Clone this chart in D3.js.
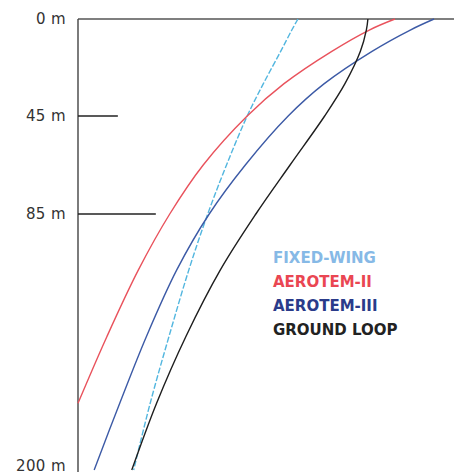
<!DOCTYPE html>
<html>
<head>
<meta charset="utf-8">
<script src="https://cdn.jsdelivr.net/npm/d3@7"></script>
<style>
  html, body { margin: 0; padding: 0; background: #fff; }
  svg { display: block; }
</style>
</head>
<body>
<div id="chart"></div>
<script>
// depth (m) down the borehole, and relative response of each system (% of full width)
const depths = [0, 5, 15, 30, 45, 65, 85, 110, 140, 170, 200];
const fixedWing = [58.5, 56.9, 53.9, 49.3, 45.0, 39.5, 34.5, 29.5, 24.2, 19.2, 14.8];
const aerotem2 = [84.3, 77.6, 67.5, 54.8, 45.0, 33.3, 24.4, 16.1, 7.7, 0, null];
const aerotem3 = [94.7, 88.5, 78.2, 65.5, 55.9, 44.5, 34.9, 26.3, 18.2, 11.1, 4.3];
const groundLoop = [77.1, 76.7, 75.1, 71.0, 65.6, 56.4, 47.3, 37.9, 28.7, 20.9, 14.3];

const tickDepths = [0, 45, 85, 200];
const tickLabels = ["0 m", "45 m", "85 m", "200 m"];
const tickReach = [0, 10.6, 20.7, 0];

const seriesNames = ["FIXED-WING", "AEROTEM-II", "AEROTEM-III", "GROUND LOOP"];
const seriesValues = [fixedWing, aerotem2, aerotem3, groundLoop];

const width = 454, height = 476;
const lineColors = ["#52b6df", "#e9525c", "#3c5aa6", "#1e1e1e"];
const textColors = ["#86b9e6", "#ea4652", "#2a3b8a", "#222222"];

const svg = d3.select("#chart").append("svg")
  .attr("width", width)
  .attr("height", height);

const x = d3.scaleLinear().domain([0, 100]).range([78, 454]);
const y = d3.scaleLinear().domain(tickDepths).range([19, 116, 214, 470]);

// frame: surface line and depth axis
svg.append("line")
  .attr("x1", x(0)).attr("x2", width)
  .attr("y1", y(0)).attr("y2", y(0))
  .attr("stroke", "#555").attr("stroke-width", 1.4);

svg.append("line")
  .attr("x1", x(0)).attr("x2", x(0))
  .attr("y1", y(0)).attr("y2", 472)
  .attr("stroke", "#444").attr("stroke-width", 1.4);

const ticks = svg.append("g");
ticks.selectAll("line")
  .data(tickDepths.filter((d, i) => tickReach[i] > 0))
  .join("line")
  .attr("x1", x(0))
  .attr("x2", d => x(tickReach[tickDepths.indexOf(d)]))
  .attr("y1", d => y(d)).attr("y2", d => y(d))
  .attr("stroke", "#222").attr("stroke-width", 1.5);

ticks.selectAll("text")
  .data(tickDepths)
  .join("text")
  .attr("x", 66)
  .attr("y", d => Math.min(y(d), 466))
  .attr("dy", "0.36em")
  .attr("text-anchor", "end")
  .attr("font-family", "DejaVu Sans, sans-serif")
  .attr("font-size", 15)
  .attr("letter-spacing", 0.4)
  .attr("fill", "#333")
  .text((d, i) => tickLabels[i]);

// curves
const line = d3.line()
  .defined(d => d.v !== null)
  .x(d => x(d.v))
  .y(d => y(d.depth))
  .curve(d3.curveCatmullRom);

svg.append("g")
  .selectAll("path")
  .data(seriesValues)
  .join("path")
  .attr("d", vals => line(vals.map((v, i) => ({ depth: depths[i], v: v }))))
  .attr("fill", "none")
  .attr("stroke", (d, i) => lineColors[i])
  .attr("stroke-width", 1.4)
  .attr("stroke-dasharray", (d, i) => i === 0 ? "6,2" : null);

// legend
svg.append("g")
  .selectAll("text")
  .data(seriesNames)
  .join("text")
  .attr("x", 273)
  .attr("y", (d, i) => 258 + i * 24)
  .attr("dy", "0.36em")
  .attr("font-family", "DejaVu Sans, sans-serif")
  .attr("font-weight", "bold")
  .attr("font-size", 15)
  .attr("fill", (d, i) => textColors[i])
  .text(d => d);
</script>
</body>
</html>
